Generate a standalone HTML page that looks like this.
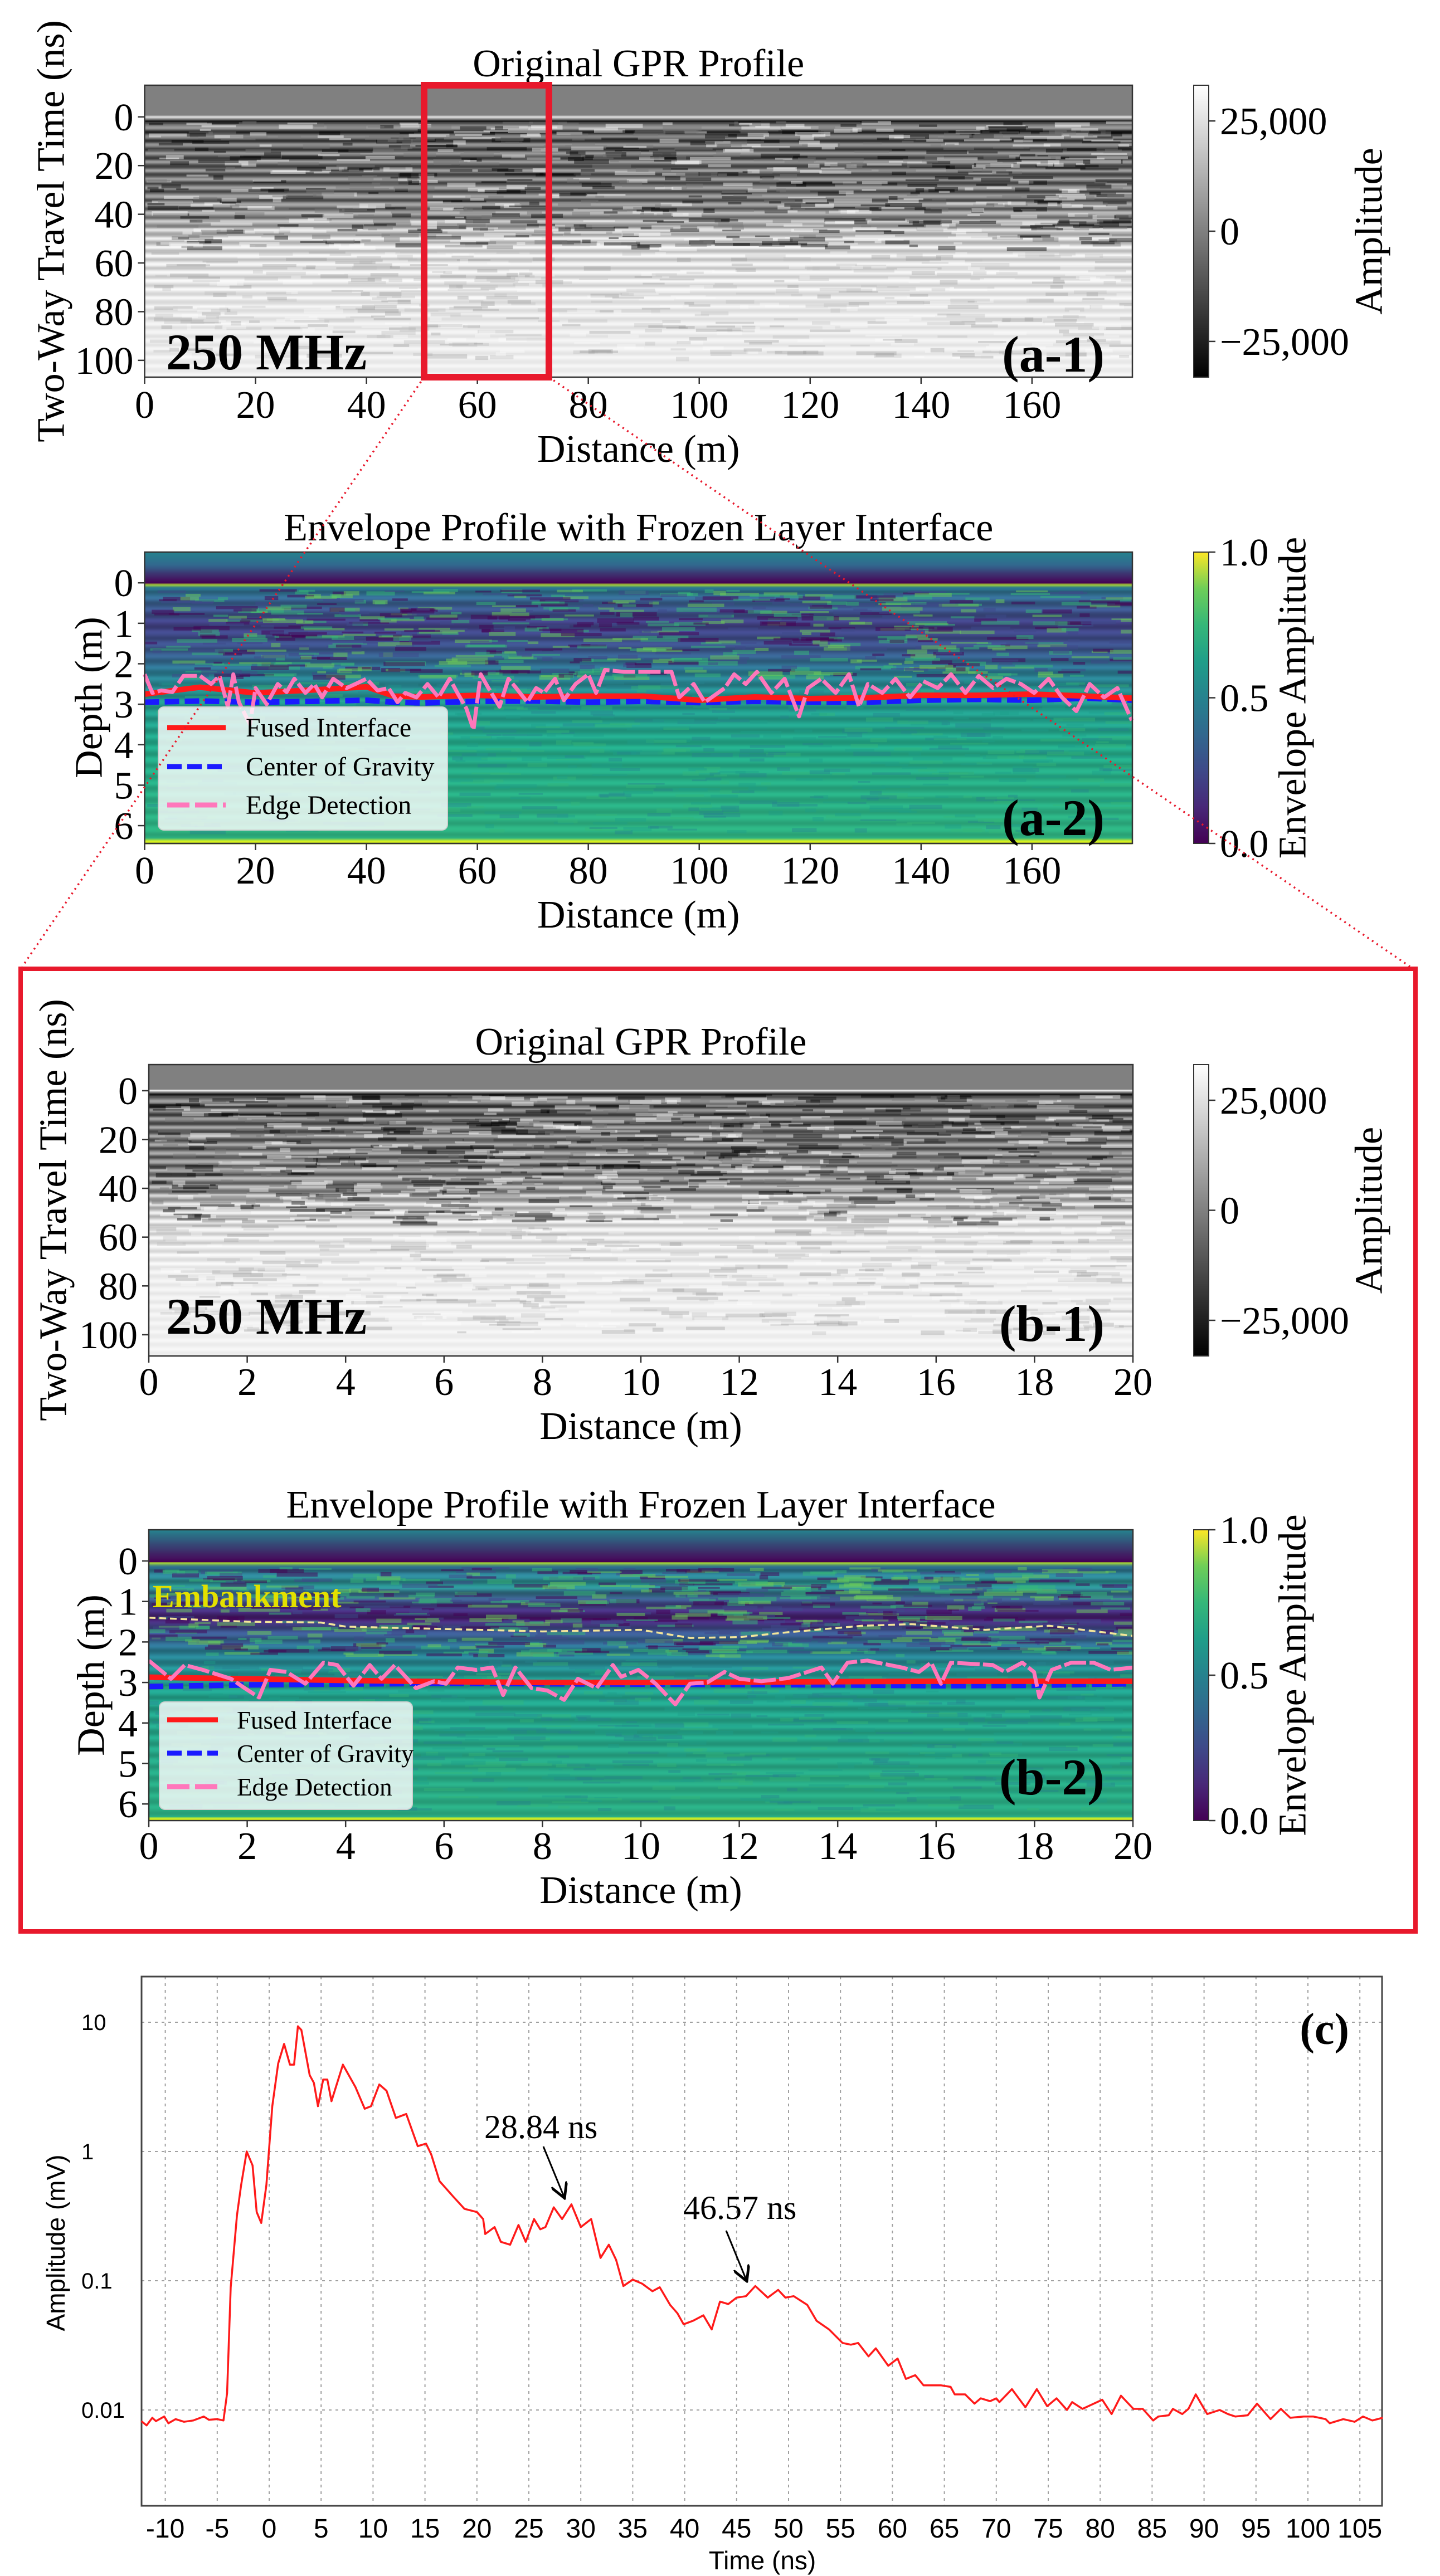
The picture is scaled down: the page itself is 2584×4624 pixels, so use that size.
<!DOCTYPE html>
<html><head><meta charset="utf-8"><title>GPR Profiles Figure</title>
<style>
html,body{margin:0;padding:0;background:#fff;}
svg{display:block;}
.serif{font-family:"Liberation Serif","Times New Roman",serif;}
.sans{font-family:"Liberation Sans",Arial,sans-serif;}
</style></head>
<body>
<svg id="figure" xmlns="http://www.w3.org/2000/svg" width="2584" height="4624" viewBox="0 0 2584 4624">
<defs>
<linearGradient id="grayCbar" x1="0" y1="1" x2="0" y2="0"><stop offset="0" stop-color="#000"/><stop offset="1" stop-color="#fff"/></linearGradient>
<linearGradient id="viridisCbar" x1="0" y1="1" x2="0" y2="0">
<stop offset="0" stop-color="#440154"/><stop offset="0.125" stop-color="#482878"/><stop offset="0.25" stop-color="#3e4989"/><stop offset="0.375" stop-color="#31688e"/><stop offset="0.5" stop-color="#26828e"/><stop offset="0.625" stop-color="#1f9e89"/><stop offset="0.75" stop-color="#35b779"/><stop offset="0.875" stop-color="#6ece58"/><stop offset="1" stop-color="#fde725"/></linearGradient>
<marker id="arrowHead" markerWidth="10" markerHeight="10" refX="8" refY="5" orient="auto" markerUnits="strokeWidth"><path d="M0,0 L9,5 L0,10" fill="none" stroke="#000" stroke-width="1.6"/></marker>
</defs>
<g id="layer-bg"></g>
<g id="layer-marks"></g>
<g id="layer-axes"></g>
</svg>
<script>
// ---------- data ----------
const a1XTicks = [0,20,40,60,80,100,120,140,160];
const a1YTicks = [0,20,40,60,80,100];
const a2YTicks = [0,1,2,3,4,5,6];
const b1XTicks = [0,2,4,6,8,10,12,14,16,18,20];
const ampTicks = [25000,0,-25000];
const ampTickLabels = ["25,000","0","\u221225,000"];
const envTicks = [1.0,0.5,0.0];
const envTickLabels = ["1.0","0.5","0.0"];

const a2Dist  = [0,10,20,30,40,45,50,60,70,80,90,100,110,120,130,140,150,160,170,178];
const a2Fused = [2.75,2.58,2.72,2.65,2.57,2.8,2.82,2.78,2.82,2.8,2.8,2.9,2.82,2.86,2.84,2.78,2.78,2.75,2.8,2.85];
const a2Cog   = [2.95,2.92,2.95,2.93,2.9,2.95,2.97,2.93,2.92,2.95,2.93,2.96,2.93,2.95,2.95,2.9,2.88,2.9,2.85,2.9];
const a2EdgeX = [0,1.4,3,5,7,10,12,13.5,15,16,17,19,20,22,24,25.6,27,29,30.6,32,34,36.4,38,40,42,44,45.6,47,49,51,53,55,56.4,58,59.3,60.6,62,64,65.6,67,69,70.6,72,74,75.6,77.7,80,81.4,83,86.4,90.6,95,96.4,99,101,104.6,106.3,108.4,110.4,113,115.4,118,119.6,122,124.6,127,128.8,130.4,133,135.4,138,140.4,143,145.4,148,150.4,153,155.4,158,160.4,163,165.4,168,170.4,173,175.4,178];
const a2Edge  = [2.26,2.72,2.66,2.7,2.3,2.3,2.5,2.3,3.06,2.26,2.95,3.5,2.6,3.0,2.5,2.7,2.37,2.72,2.5,2.83,2.37,2.6,2.5,2.37,2.66,2.6,2.95,2.72,2.83,2.5,2.83,2.37,2.72,3.1,3.63,2.26,2.6,3.06,2.37,2.6,2.95,2.6,2.72,2.37,2.9,2.5,2.26,2.72,2.15,2.2,2.2,2.2,2.83,2.5,2.95,2.6,2.26,2.5,2.2,2.72,2.37,3.3,2.6,2.37,2.72,2.26,3.06,2.5,2.72,2.37,2.83,2.43,2.6,2.26,2.72,2.3,2.6,2.37,2.5,2.72,2.37,2.83,3.17,2.5,2.83,2.6,3.4];

const b2Dist  = [0,2,4,6,8,10,12,14,16,18,20];
const b2Fused = [2.87,2.91,2.95,2.98,3.0,3.0,2.99,2.98,2.97,2.97,2.97];
const b2Cog   = [3.1,3.06,3.04,3.02,3.03,3.04,3.05,3.06,3.08,3.07,3.03];
const b2EdgeX = [0,0.45,0.73,1.1,1.67,1.95,2.24,2.47,2.8,3.18,3.55,3.83,4.16,4.49,4.73,5.0,5.43,5.8,6.04,6.28,6.65,6.98,7.2,7.45,7.78,8.1,8.44,8.72,9.1,9.43,9.6,9.95,10.3,10.7,11.0,11.35,11.7,12,12.45,13.0,13.67,13.9,14.2,14.6,15.3,15.65,15.9,16.1,16.3,17.15,17.4,17.75,17.99,18.1,18.35,18.75,19.2,19.55,20];
const b2Edge  = [2.46,2.91,2.57,2.69,2.91,3.14,3.37,2.69,2.74,3.03,2.51,2.57,3.08,2.57,2.91,2.57,3.14,2.97,3.03,2.63,2.69,2.63,3.31,2.63,3.14,3.2,3.43,2.91,3.14,2.57,2.86,2.69,3.03,3.54,3.03,3.0,2.74,2.91,2.97,2.89,2.63,3.03,2.51,2.46,2.63,2.74,2.51,3.03,2.51,2.57,2.74,2.51,2.74,3.37,2.69,2.51,2.51,2.69,2.63];
const embX = [0,2,3.5,4,6,8,10,11,12,13,14.5,15.5,17,18.3,20];
const embD = [1.4,1.5,1.52,1.62,1.68,1.74,1.7,1.9,1.88,1.76,1.6,1.56,1.7,1.6,1.85];

const cXTicks = [-10,-5,0,5,10,15,20,25,30,35,40,45,50,55,60,65,70,75,80,85,90,95,100,105];
const cYTicks = [10,1,0.1,0.01];
const cYTickLabels = ["10","1","0.1","0.01"];
const cTime = [-12.3,-11.8,-11.25,-10.9,-10.1,-9.7,-9.0,-8.2,-7.3,-6.3,-5.8,-5.0,-4.4,-4.05,-3.7,-3.1,-2.7,-2.16,-1.6,-1.2,-0.76,-0.27,0.3,0.87,1.44,2.0,2.4,2.77,3.1,3.9,4.3,4.7,5.2,5.6,6.0,7.1,8.3,9.2,9.8,10.6,11.3,12.2,13.2,14.3,15.1,15.6,16.4,17.7,18.8,20.0,20.6,20.8,21.7,22.3,23.2,24.0,24.7,25.5,26.1,26.6,27.4,28.2,29.1,30.0,31.0,31.9,32.7,33.4,34.1,35.0,35.9,36.9,37.6,38.6,39.3,39.9,40.8,41.8,42.6,43.4,44.2,45,45.9,46.8,48.0,49.0,49.7,50.5,51.8,52.7,53.9,55.2,56.0,56.7,57.7,58.4,59.6,60.5,61.3,62.2,63.0,64.7,65.6,66.0,67,67.9,68.5,69.4,70,70.3,71.5,72.8,73.9,74.9,75.8,76.8,77.3,78.3,80.2,81.1,82.0,83.2,84.1,85.1,85.6,86.6,87.0,87.9,88.5,89.2,90.3,91.5,92.3,93,94.2,95.1,96.4,97.4,98.3,99.6,100.5,101.7,102.1,103.4,104.5,105.3,106.2,107.2];
const cAmp = [0.0082,0.0076,0.0087,0.0082,0.0089,0.0079,0.0085,0.0081,0.0083,0.0089,0.0084,0.0085,0.0083,0.0135,0.089,0.32,0.55,1.0,0.78,0.34,0.28,0.55,2.24,4.8,6.8,4.7,4.7,9.3,8.7,3.9,3.4,2.24,3.6,3.6,2.45,4.7,3.16,2.14,2.24,3.3,2.95,1.82,1.95,1.1,1.15,0.95,0.59,0.45,0.36,0.34,0.30,0.23,0.26,0.20,0.19,0.27,0.20,0.30,0.25,0.26,0.37,0.30,0.39,0.26,0.30,0.15,0.19,0.145,0.091,0.102,0.095,0.083,0.089,0.065,0.056,0.046,0.049,0.054,0.042,0.069,0.066,0.074,0.076,0.091,0.074,0.085,0.074,0.076,0.065,0.049,0.042,0.033,0.032,0.033,0.026,0.030,0.022,0.025,0.0174,0.0186,0.0155,0.0155,0.0151,0.0132,0.0132,0.0112,0.0123,0.0117,0.0123,0.0115,0.0145,0.0105,0.0145,0.0107,0.0123,0.0100,0.0115,0.0102,0.0120,0.0093,0.0129,0.0102,0.0102,0.0083,0.0089,0.0091,0.0102,0.0093,0.0102,0.0132,0.0093,0.0100,0.0093,0.0089,0.0091,0.0112,0.0085,0.0102,0.0087,0.0089,0.0089,0.0085,0.0079,0.0085,0.0081,0.0089,0.0083,0.0087];

// ---------- helpers ----------
const NS = 'http://www.w3.org/2000/svg';
const svg = document.getElementById('figure');
const gBg = document.getElementById('layer-bg');
const gMk = document.getElementById('layer-marks');
const gAx = document.getElementById('layer-axes');
function mk(tag, parent){ const e=document.createElementNS(NS,tag); parent.appendChild(e); return e; }
function geo(e, o){ for(const k in o) e.setAttribute(k, o[k]); return e; }
function lin(d0,d1,r0,r1){ return v => r0 + (v-d0)/(d1-d0)*(r1-r0); }
function txt(parent, x, y, s, size, cls, anchor, weight){
  const t = mk('text', parent);
  geo(t, {x:x, y:y, 'font-size':size, 'text-anchor':anchor||'start', class:cls||'serif', fill:'#000'});
  if(weight) t.setAttribute('font-weight', weight);
  t.textContent = s; return t;
}
function interpStops(stops, v){
  if(v<=stops[0][0]) return stops[0][1];
  for(let i=1;i<stops.length;i++){ if(v<=stops[i][0]){ const a=stops[i-1], b=stops[i]; const f=(v-a[0])/(b[0]-a[0]||1);
    if(Array.isArray(a[1])) return a[1].map((c,j)=>c+(b[1][j]-c)*f); return a[1]+(b[1]-a[1])*f; } }
  return stops[stops.length-1][1];
}
function clamp(v){ return Math.max(0,Math.min(255,Math.round(v))); }
let seed = 12345;
function rnd(){ seed = (seed*1103515245 + 12345) % 2147483648; return seed/2147483648; }

// ---------- panel geometry ----------
const P = {
  a1:{x0:259.5,x1:2032,y0:153,y1:677,xd:[0,178.1],yd:[-13,106.9]},
  a2:{x0:259.5,x1:2032,y0:991,y1:1514,xd:[0,178.1],yd:[-0.76,6.44]},
  b1:{x0:267,x1:2033,y0:1911,y1:2434,xd:[0,20],yd:[-10.7,108.7]},
  b2:{x0:267,x1:2033,y0:2746,y1:3268,xd:[0,20],yd:[-0.77,6.41]}
};
for(const k in P){ const p=P[k]; p.sx=lin(p.xd[0],p.xd[1],p.x0,p.x1); p.sy=lin(p.yd[0],p.yd[1],p.y0,p.y1); }

// ---------- heatmap textures ----------
function speckle(g, p, yFrom, yTo, colors, count, op){
  for(let i=0;i<count;i++){
    const x = p.x0 + rnd()*(p.x1-p.x0-20);
    const y = yFrom + rnd()*(yTo-yFrom-6);
    const w = Math.min(15+rnd()*60, p.x1 - x - 1);
    const r = mk('rect', g);
    geo(r,{x:x.toFixed(1),y:y.toFixed(1),width:w.toFixed(1),height:(3+rnd()*5).toFixed(1),fill:colors[Math.floor(rnd()*colors.length)],opacity:op});
  }
}
function grayPanel(p, baseStops, ampStops, name){
  const g = mk('g', gBg);
  
  
  for(let y=p.y0; y<p.y1; y+=2){
    const v = p.yd[0] + (y-p.y0)/(p.y1-p.y0)*(p.yd[1]-p.yd[0]);
    const base = interpStops(baseStops, v), amp = interpStops(ampStops, v);
    const c = clamp(base + amp*Math.sin(v*1.8));
    const r = mk('rect', g); geo(r,{x:p.x0,y:y,width:p.x1-p.x0,height:2.6,fill:`rgb(${c},${c},${c})`});
  }
  const y0 = p.sy(1.5), y1 = p.sy(55), y2 = p.sy(100);
  speckle(g, p, y0, y1, ['#000','#fff','#777'], 900, 0.45);
  speckle(g, p, y1, y2, ['#bbb','#fff','#999'], 500, 0.35);
}
function viridisPanel(p, stops, mod, name){
  const g = mk('g', gBg);
  
  
  for(let y=p.y0; y<p.y1; y+=2){
    const v = p.yd[0] + (y-p.y0)/(p.y1-p.y0)*(p.yd[1]-p.yd[0]);
    const c = interpStops(stops, v); const m = 1 + interpStops(mod, v)*Math.sin(v*22);
    const r = mk('rect', g); geo(r,{x:p.x0,y:y,width:p.x1-p.x0,height:2.6,fill:`rgb(${clamp(c[0]*m)},${clamp(c[1]*m)},${clamp(c[2]*m)})`});
  }
  speckle(g, p, p.sy(0.15), p.sy(2.4), ['#35b779','#440154','#6ece58','#3e4989'], 700, 0.5);
  speckle(g, p, p.sy(2.4), p.sy(6.2), ['#26828e','#35b779','#1f9e89'], 600, 0.4);
}
grayPanel(P.a1, [[-13,128],[-0.8,128],[-0.2,235],[1.5,15],[3,150],[5,80],[10,100],[20,110],[35,120],[42,155],[48,200],[55,218],[70,230],[107,240]],
  [[-13,0],[2,0],[3,50],[40,45],[55,30],[80,12],[107,6]], 'a1-gpr-image');
grayPanel(P.b1, [[-11,128],[-0.8,128],[-0.2,235],[1.2,15],[3,150],[5,90],[12,115],[28,125],[40,145],[46,195],[55,222],[70,237],[109,242]],
  [[-11,0],[2,0],[3,50],[40,50],[55,26],[75,8],[109,5]], 'b1-gpr-image');
viridisPanel(P.a2, [[-0.76,[38,130,142]],[-0.45,[49,104,142]],[-0.1,[68,20,95]],[0,[68,1,84]],[0.03,[180,222,44]],[0.1,[42,118,142]],[0.5,[55,92,138]],[1.0,[64,62,128]],[1.6,[58,82,136]],[2.2,[42,120,142]],[3.0,[34,150,138]],[4.0,[34,165,133]],[6.3,[45,175,126]],[6.36,[200,225,30]],[6.44,[200,225,30]]],
  [[-0.76,0],[0.1,0],[0.2,0.15],[3,0.12],[6.3,0.07]], 'a2-envelope-image');
viridisPanel(P.b2, [[-0.77,[38,130,142]],[-0.1,[68,20,95]],[0,[68,1,84]],[0.04,[170,220,50]],[0.12,[45,110,142]],[0.6,[40,140,138]],[1.1,[65,60,130]],[1.4,[68,25,105]],[1.7,[60,80,138]],[2.2,[40,120,142]],[2.8,[34,145,140]],[3.3,[33,158,136]],[6.3,[42,170,128]],[6.35,[200,225,30]],[6.41,[200,225,30]]],
  [[-0.77,0],[0.1,0],[0.2,0.18],[3,0.13],[6.3,0.07]], 'b2-envelope-image');

// ---------- axes for image panels ----------
function frame(p, name){
  const r = mk('rect', gAx); geo(r,{x:p.x0,y:p.y0,width:p.x1-p.x0,height:p.y1-p.y0,fill:'none',stroke:'#333','stroke-width':2.5});
  
  
}
function xAxis(p, ticks, baseY, labelY, key){
  ticks.forEach(v=>{
    const x=p.sx(v);
    const l=mk('line',gAx); geo(l,{x1:x,y1:p.y1,x2:x,y2:p.y1+12,stroke:'#333','stroke-width':2.5});
    
    
    const t=txt(gAx,x,baseY,String(v),70,'serif','middle');
    
    
  });
  const t=txt(gAx,(p.x0+p.x1)/2,labelY,'Distance (m)',70,'serif','middle');
  
  
}
function yAxis(p, ticks, key){
  ticks.forEach(v=>{
    const y=p.sy(v);
    const l=mk('line',gAx); geo(l,{x1:p.x0-12,y1:y,x2:p.x0,y2:y,stroke:'#333','stroke-width':2.5});
    
    
    const t=txt(gAx,p.x0-20,y+24,String(v),70,'serif','end');
    
    
  });
}
function rotLabel(x, y, s, size, name, cls){
  const t=txt(gAx,0,0,s,size,cls||'serif','middle');
  geo(t,{transform:`translate(${x},${y}) rotate(-90)`,'dominant-baseline':'central'});
  
  
}
function colorbar(p, fillId, ticks, labels, vmin, vmax, title, titleX, key){
  const cx0=2142, cx1=2169;
  const r=mk('rect',gAx); geo(r,{x:cx0,y:p.y0,width:cx1-cx0,height:p.y1-p.y0,fill:`url(#${fillId})`,stroke:'#333','stroke-width':2});
  
  
  const s=lin(vmin,vmax,p.y1,p.y0);
  ticks.forEach((v,i)=>{
    const y=s(v);
    const l=mk('line',gAx); geo(l,{x1:cx1,y1:y,x2:cx1+12,y2:y,stroke:'#333','stroke-width':2.5});
    
    
    const t=txt(gAx,cx1+20,y+24,labels[i],70,'serif','start');
    
    
  });
  rotLabel(titleX,(p.y0+p.y1)/2,title,70,key+'-colorbar-title');
}
function title(p, y, s, key){
  const t=txt(gAx,(p.x0+p.x1)/2,y,s,70,'serif','middle');
  
  
}
function tag(x, y, s, key){
  const t=txt(gAx,x,y,s,92,'serif','end','bold');
  
  
}

// a-1
frame(P.a1,'a1-plot-frame'); xAxis(P.a1,a1XTicks,750,829,'a1'); yAxis(P.a1,a1YTicks,'a1');
title(P.a1,137,'Original GPR Profile','a1');
rotLabel(92,415,'Two-Way Travel Time (ns)',70,'a1-y-axis-title');
colorbar(P.a1,'grayCbar',ampTicks,ampTickLabels,-33100,33100,'Amplitude',2457,'a1');
let t1=txt(gAx,298,663,'250 MHz',92,'serif','start','bold');


tag(1982,667,'(a-1)','a1');

// a-2
frame(P.a2,'a2-plot-frame'); xAxis(P.a2,a1XTicks,1586,1665,'a2'); yAxis(P.a2,a2YTicks,'a2');
title(P.a2,970,'Envelope Profile with Frozen Layer Interface','a2');
rotLabel(160,1252,'Depth (m)',70,'a2-y-axis-title');
colorbar(P.a2,'viridisCbar',envTicks,envTickLabels,0,1,'Envelope Amplitude',2320,'a2');
tag(1982,1499,'(a-2)','a2');

// b-1
frame(P.b1,'b1-plot-frame'); xAxis(P.b1,b1XTicks,2504,2583,'b1'); yAxis(P.b1,a1YTicks,'b1');
title(P.b1,1893,'Original GPR Profile','b1');
rotLabel(96,2172,'Two-Way Travel Time (ns)',70,'b1-y-axis-title');
colorbar(P.b1,'grayCbar',ampTicks,ampTickLabels,-33100,33100,'Amplitude',2457,'b1');
let t2=txt(gAx,298,2394,'250 MHz',92,'serif','start','bold');


tag(1982,2407,'(b-1)','b1');

// b-2
frame(P.b2,'b2-plot-frame'); xAxis(P.b2,b1XTicks,3337,3416,'b2'); yAxis(P.b2,a2YTicks,'b2');
title(P.b2,2724,'Envelope Profile with Frozen Layer Interface','b2');
rotLabel(164,3007,'Depth (m)',70,'b2-y-axis-title');
colorbar(P.b2,'viridisCbar',envTicks,envTickLabels,0,1,'Envelope Amplitude',2320,'b2');
tag(1982,3221,'(b-2)','b2');

// ---------- interface lines ----------
function series(p, xs, ys, color, width, dash, name){
  const pts = xs.map((x,i)=>p.sx(x).toFixed(1)+','+p.sy(ys[i]).toFixed(1)).join(' ');
  const l = mk('polyline', gMk);
  geo(l,{points:pts,fill:'none',stroke:color,'stroke-width':width,'stroke-linejoin':'round'});
  if(dash) l.setAttribute('stroke-dasharray', dash);
  
  
}
series(P.a2, a2Dist, a2Cog, '#1a1aff', 10, '26,10', 'a2-center-of-gravity-line');
series(P.a2, a2Dist, a2Fused, '#ff1a1a', 10, null, 'a2-fused-interface-line');
series(P.a2, a2EdgeX, a2Edge, '#ff77bb', 7, '40,6', 'a2-edge-detection-line');
series(P.b2, embX, embD, '#f3e59a', 3.5, '12,7', 'b2-embankment-boundary');
series(P.b2, b2Dist, b2Cog, '#1a1aff', 10, '26,10', 'b2-center-of-gravity-line');
series(P.b2, b2Dist, b2Fused, '#ff1a1a', 10, null, 'b2-fused-interface-line');
series(P.b2, b2EdgeX, b2Edge, '#ff77bb', 7, '40,6', 'b2-edge-detection-line');
let emb=txt(gAx,274,2885,'Embankment',58,'serif','start','bold');
emb.setAttribute('fill','#e3e000');



// ---------- legends ----------
function legend(box, rows, lineX0, lineX1, textX, fs, key){
  const g=mk('g',gAx);
  
  
  const r=mk('rect',g); geo(r,{x:box[0],y:box[1],width:box[2],height:box[3],rx:10,fill:'rgba(255,255,255,0.8)',stroke:'#d0d0d0','stroke-width':2});
  const items=[['Fused Interface','#ff1a1a',null],['Center of Gravity','#1a1aff','26,10'],['Edge Detection','#ff77bb','40,10']];
  items.forEach((it,i)=>{
    const y=rows[i];
    const l=mk('line',g); geo(l,{x1:lineX0,y1:y,x2:lineX1,y2:y,stroke:it[1],'stroke-width':9});
    if(it[2]) l.setAttribute('stroke-dasharray',it[2]);
    
    
    const t=txt(g,textX,y+16,it[0],fs,'serif','start');
    
    
  });
}
legend([284,1269,519,221],[1306,1376,1445],300,405,441,48,'a2');
legend([286,3055,454,193],[3087,3147,3207],300,391,425,45,'b2');

// ---------- zoom box & connectors ----------
let zr=mk('rect',gAx); geo(zr,{x:761,y:153,width:224,height:524,fill:'none',stroke:'#e8192c','stroke-width':12});


let c1=mk('line',gAx); geo(c1,{x1:761,y1:677,x2:40,y2:1735,stroke:'#e8192c','stroke-width':3.5,'stroke-dasharray':'3,7'});


let c2=mk('line',gAx); geo(c2,{x1:985,y1:677,x2:2530,y2:1735,stroke:'#e8192c','stroke-width':3.5,'stroke-dasharray':'3,7'});


let bb=mk('rect',gAx); geo(bb,{x:37,y:1739,width:2503,height:1728,fill:'none',stroke:'#e8192c','stroke-width':8});



// ---------- chart (c) ----------
const C = {x0:254,x1:2480,y0:3548,y1:4498};
const cx = lin(0,100,483,2347);
const cy = v => 3630 - (Math.log10(v)-1)*232;
const gc = mk('g', gAx);


cXTicks.forEach(v=>{
  const x=cx(v);
  const l=mk('line',gc); geo(l,{x1:x,y1:C.y0,x2:x,y2:C.y1,stroke:'#a0a0a0','stroke-width':2,'stroke-dasharray':'5,7'});
  
  
  const t=txt(gc,x,4555,String(v),48,'sans','middle');
  
  
});
cYTicks.forEach((v,i)=>{
  const y=cy(v);
  const l=mk('line',gc); geo(l,{x1:C.x0,y1:y,x2:C.x1,y2:y,stroke:'#a0a0a0','stroke-width':2,'stroke-dasharray':'5,7'});
  
  
  const t=txt(gc,146,y+14,cYTickLabels[i],40,'sans','start');
  
  
});
let cf=mk('rect',gc); geo(cf,{x:C.x0,y:C.y0,width:C.x1-C.x0,height:C.y1-C.y0,fill:'none',stroke:'#444','stroke-width':3});


let cl=mk('polyline',gc);
geo(cl,{points:cTime.map((t,i)=>cx(t).toFixed(1)+','+cy(cAmp[i]).toFixed(1)).join(' '),fill:'none',stroke:'#ff1a1a','stroke-width':3.5,'stroke-linejoin':'round'});


let cxt=txt(gc,1368,4612,'Time (ns)',46,'sans','middle');


rotLabel(100,4026,'Amplitude (mV)',46,'c-y-axis-title','sans');
let an1=txt(gc,869,3838,'28.84 ns',60,'serif','start');


let ar1=mk('line',gc); geo(ar1,{x1:975,y1:3853,x2:1012,y2:3943,stroke:'#000','stroke-width':3,'marker-end':'url(#arrowHead)'});


let an2=txt(gc,1226,3983,'46.57 ns',60,'serif','start');


let ar2=mk('line',gc); geo(ar2,{x1:1303,y1:4004,x2:1339,y2:4092,stroke:'#000','stroke-width':3,'marker-end':'url(#arrowHead)'});


let ctag=txt(gc,2421,3669,'(c)',80,'serif','end','bold');


</script>
</body></html>
